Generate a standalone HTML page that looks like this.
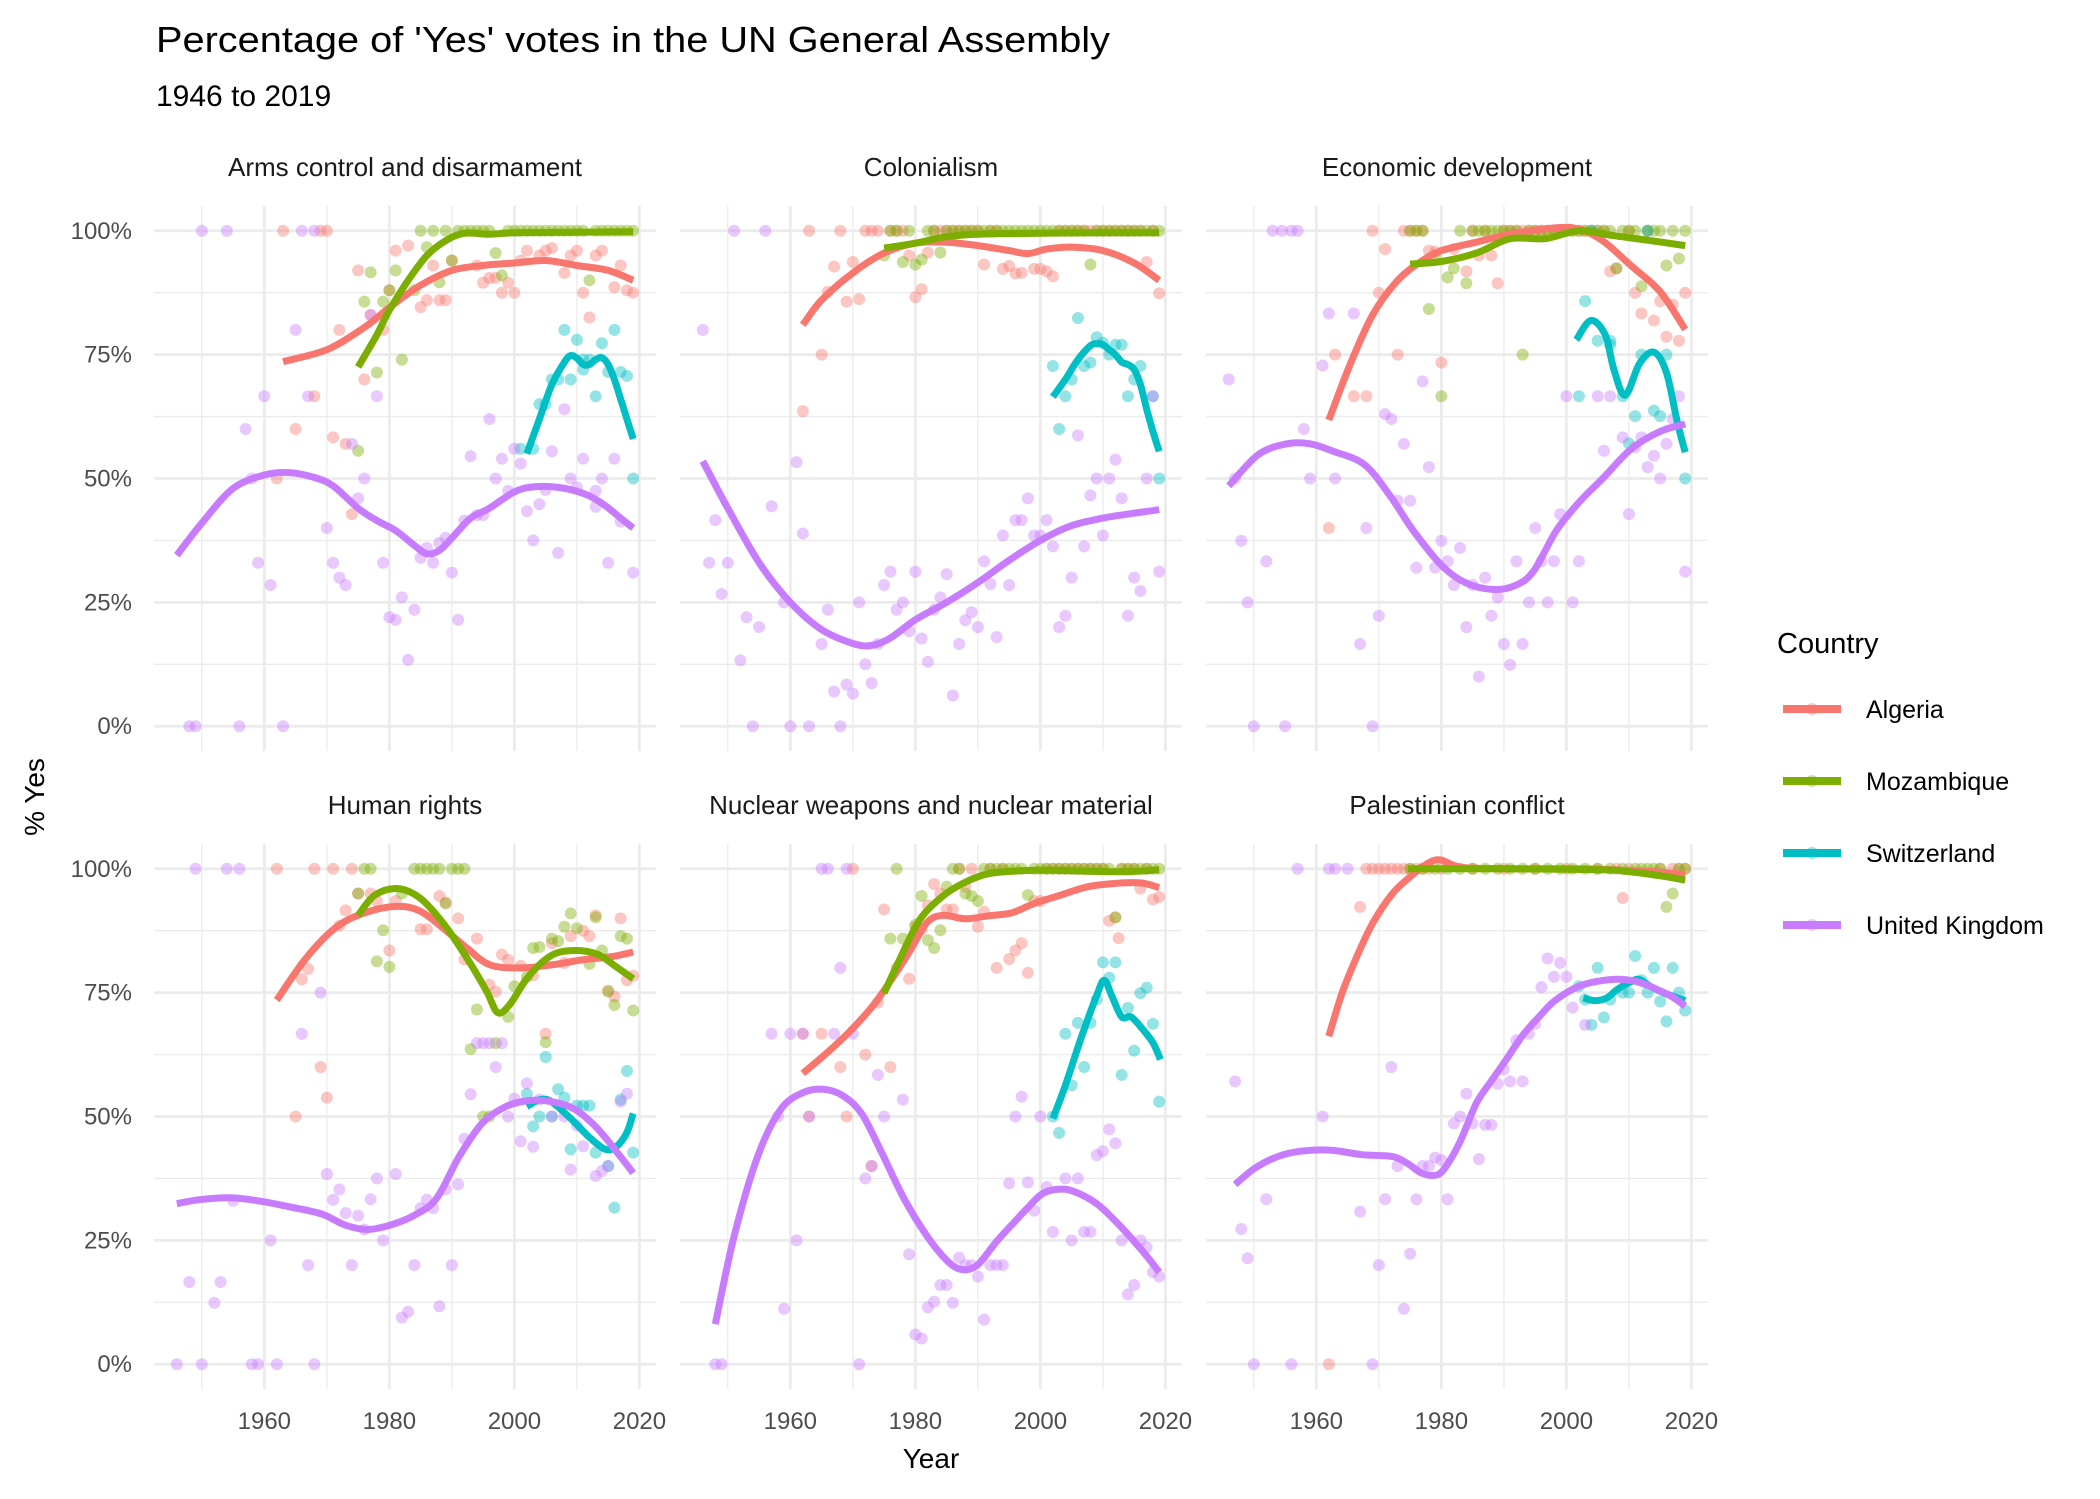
<!DOCTYPE html>
<html><head><meta charset="utf-8"><title>UN votes</title>
<style>
html,body{margin:0;padding:0;background:#fff;}
svg{display:block;font-family:"Liberation Sans",Arial,sans-serif;}
</style></head>
<body>
<svg id="chart" width="2100" height="1499" viewBox="0 0 2100 1499" xmlns="http://www.w3.org/2000/svg">
<rect width="2100" height="1499" fill="#ffffff"/>
<text x="156" y="52" font-size="36" fill="#000" textLength="954" lengthAdjust="spacingAndGlyphs">Percentage of 'Yes' votes in the UN General Assembly</text>
<text x="156" y="106" font-size="30" fill="#000">1946 to 2019</text>
<text transform="translate(44,797) rotate(-90)" text-anchor="middle" font-size="28" fill="#000">% Yes</text>
<text x="931" y="1468" text-anchor="middle" font-size="28" fill="#000">Year</text>
<g id="panels"></g>
<g id="legend">
<text x="1777" y="653" font-size="29" fill="#000">Country</text>
</g>
</svg>
<script>
const countries = ["Algeria","Mozambique","Switzerland","United Kingdom"];
const colors = ["#F8766D","#7CAE00","#00BFC4","#C77CFF"];
const panelTitles = ["Arms control and disarmament","Colonialism","Economic development","Human rights","Nuclear weapons and nuclear material","Palestinian conflict"];
const yTicks = [0,25,50,75,100];
const yTickLabels = ["0%","25%","50%","75%","100%"];
const xTicks = [1960,1980,2000,2020];
const xTickLabels = ["1960","1980","2000","2020"];

const armsAlgPts = [[1963,100],[1969,100],[1970,100],[1962,50],[1965,60],[1968,66.6],[1971,58.3],[1972,80],[1973,57],[1974,42.8],[1975,92],[1976,70],[1977,83],[1979,80],[1980,88],[1981,96],[1983,97],[1985,84.6],[1986,86],[1987,93],[1988,86],[1989,86],[1990,94],[1994,93],[1995,89.5],[1996,90.5],[1997,90.5],[1998,87.5],[1999,89.5],[2000,87.5],[2001,94],[2002,96],[2004,95],[2005,96],[2006,96.5],[2008,91.5],[2009,95],[2010,96],[2011,87.5],[2012,82.5],[2013,95],[2014,96],[2016,88.6],[2017,93],[2018,88],[2019,87.5]];
const armsMozPts = [[1975,55.6],[1976,85.7],[1977,91.6],[1978,71.4],[1979,85.7],[1980,88],[1981,92],[1982,74],[1984,88],[1985,100],[1986,96.7],[1987,100],[1988,89.6],[1989,100],[1990,94],[1991,100],[1992,100],[1993,100],[1994,100],[1995,100],[1996,100],[1997,95.5],[1998,91],[1999,100],[2000,100],[2001,100],[2002,100],[2003,100],[2004,100],[2005,100],[2006,100],[2007,100],[2008,100],[2009,100],[2010,100],[2011,100],[2012,90],[2013,100],[2014,100],[2015,100],[2016,100],[2017,100],[2018,100],[2019,100]];
const armsSwiPts = [[2001,56],[2003,56],[2004,65],[2005,65],[2006,70],[2007,70],[2008,80],[2009,70],[2010,78],[2011,74],[2011,72],[2012,74],[2013,66.6],[2014,77.3],[2015,71.5],[2016,80],[2017,71.5],[2018,70.7],[2019,50]];
const armsUkPts = [[1950,100],[1954,100],[1966,100],[1968,100],[1965,80],[1960,66.6],[1957,60],[1958,50],[1959,33],[1961,28.5],[1967,66.6],[1970,40],[1971,33],[1972,30],[1973,28.5],[1974,57],[1975,46],[1976,50],[1978,66.6],[1977,83],[1979,33],[1980,22],[1981,21.5],[1982,26],[1983,13.4],[1984,23.5],[1985,34],[1986,36],[1987,33],[1988,37],[1989,38],[1990,31],[1991,21.5],[1992,41.5],[1993,54.5],[1994,42.6],[1995,42.6],[1996,62],[1997,50],[1998,54],[1999,47.5],[2000,56],[2001,53],[2002,43.4],[2003,37.5],[2004,44.8],[2005,47.7],[2006,55.5],[2007,35],[2008,64],[2009,50],[2010,48.2],[2011,54],[2013,44.3],[2013,47.5],[2014,50],[2015,33],[2016,54],[2017,41.3],[2019,31],[1948,0],[1949,0],[1956,0],[1963,0]];
const armsAlgLine = [[1963,73.6],[1970,76],[1976,80.5],[1980,84.5],[1985,89],[1990,92],[1995,93],[2000,93.5],[2005,94],[2010,93],[2015,92],[2019,90]];
const armsMozLine = [[1975,72.5],[1978,79],[1980,84],[1983,90],[1986,95],[1989,98],[1992,99.5],[1996,99.3],[2000,99.6],[2010,99.7],[2019,99.8]];
const armsSwiLine = [[2002,55],[2004,62],[2006,69],[2008,73.5],[2009,74.8],[2010,74.3],[2011,73],[2012,73],[2013,74],[2014,74.4],[2015,73],[2016,70],[2017,66],[2018,62],[2019,58]];
const armsUkLine = [[1946,34.5],[1950,41],[1955,48],[1960,50.7],[1964,51.2],[1968,50.2],[1971,48.5],[1975,44],[1978,41.5],[1981,39.5],[1984,36.5],[1986,34.8],[1988,35.5],[1990,38],[1993,42],[1996,44],[2000,47.3],[2003,48.3],[2007,48.2],[2011,47],[2014,45],[2017,42],[2019,40]];

const colAlgPts = [[1963,100],[1968,100],[1972,100],[1973,100],[1974,100],[1976,100],[1977,100],[1978,100],[1983,100],[1984,100],[1985,100],[1986,100],[1987,100],[1988,100],[1989,100],[1990,100],[1992,100],[1993,100],[2003,100],[2004,100],[2005,100],[2006,100],[2007,100],[2008,100],[2009,100],[2010,100],[2011,100],[2012,100],[2013,100],[2014,100],[2015,100],[2016,100],[2018,100],[1962,63.6],[1965,75],[1966,87.7],[1967,92.8],[1969,85.7],[1970,93.7],[1971,86.2],[1979,95],[1980,86.6],[1981,88.2],[1982,95.6],[1991,93.2],[1994,92.3],[1995,92.9],[1996,91.4],[1997,91.5],[1999,92.3],[2000,92.3],[2001,91.8],[2002,90.8],[2017,93.7],[2019,87.4]];
const colMozPts = [[1976,100],[1977,100],[1979,100],[1982,100],[1983,100],[1985,100],[1986,100],[1987,100],[1988,100],[1989,100],[1990,100],[1991,100],[1992,100],[1993,100],[1994,100],[1995,100],[1996,100],[1997,100],[1998,100],[1999,100],[2000,100],[2001,100],[2002,100],[2003,100],[2004,100],[2005,100],[2006,100],[2007,100],[2009,100],[2010,100],[2011,100],[2012,100],[2013,100],[2014,100],[2015,100],[2016,100],[2017,100],[2018,100],[2019,100],[1975,95],[1978,93.7],[1980,93.2],[1981,94.2],[1984,95.6],[2008,93.2]];
const colSwiPts = [[2002,72.7],[2003,60],[2004,66.6],[2005,70],[2006,82.4],[2007,72.7],[2008,73.4],[2009,78.5],[2010,77.4],[2011,75],[2012,77],[2013,77],[2014,66.6],[2015,70],[2016,72.7],[2018,66.6],[2019,50]];
const colUkPts = [[1946,80],[1951,100],[1956,100],[1948,41.6],[1947,33],[1950,33],[1949,26.7],[1953,22],[1955,20],[1952,13.3],[1954,0],[1960,0],[1963,0],[1968,0],[1957,44.4],[1961,53.3],[1962,38.9],[1959,25],[1965,16.6],[1966,23.5],[1967,7],[1969,8.4],[1970,6.6],[1971,25],[1972,12.5],[1973,8.7],[1974,16.6],[1975,28.5],[1976,31.2],[1977,23.5],[1978,25],[1979,19.2],[1980,31.2],[1981,17.7],[1982,13],[1983,23.5],[1984,26],[1985,30.7],[1986,6.2],[1987,16.6],[1988,21.4],[1989,23],[1990,20],[1991,33.3],[1992,28.7],[1993,18],[1994,38.5],[1995,28.5],[1996,41.6],[1997,41.6],[1998,46],[1999,38.5],[2000,38.5],[2001,41.6],[2002,36.3],[2003,20],[2004,22.3],[2005,30],[2006,58.7],[2007,36.3],[2008,46.6],[2009,50],[2010,38.5],[2011,50],[2012,53.8],[2013,46],[2014,22.3],[2015,30],[2016,27.3],[2017,50],[2018,66.6],[2019,31.2]];
const colAlgLine = [[1962,81],[1965,86],[1970,91.5],[1975,95.5],[1980,97.5],[1985,97.7],[1990,97],[1995,96],[1998,95.4],[2001,96.3],[2005,96.7],[2010,96],[2015,93.5],[2019,90]];
const colMozLine = [[1975,96.5],[1980,97.5],[1985,98.8],[1990,99.3],[2000,99.5],[2010,99.6],[2019,99.6]];
const colSwiLine = [[2002,66.5],[2004,70],[2006,74],[2008,76.8],[2009,77.2],[2010,77],[2011,76],[2012,75],[2013,73.5],[2014,73],[2015,72],[2016,69],[2017,64],[2018,59.5],[2019,55.5]];
const colUkLine = [[1946,53.5],[1950,44],[1955,33],[1960,25],[1965,19.5],[1970,16.7],[1973,16.3],[1976,17.8],[1980,21.5],[1985,25],[1990,29],[1995,33.5],[2000,37.5],[2005,40.5],[2010,42],[2015,43],[2019,43.7]];

const ecoAlgPts = [[1962,40],[1963,75],[1966,66.6],[1968,66.6],[1969,100],[1970,87.5],[1971,96.3],[1973,75],[1974,100],[1975,100],[1976,100],[1977,100],[1978,96],[1979,95.8],[1980,73.4],[1982,96.3],[1984,91.8],[1985,100],[1986,95],[1987,100],[1988,95],[1989,89.4],[1990,100],[1991,100],[1992,100],[1993,100],[1994,100],[1995,100],[1996,100],[1997,100],[1998,100],[1999,100],[2000,100],[2001,100],[2002,100],[2003,100],[2004,100],[2005,100],[2006,100],[2007,91.8],[2008,92.4],[2010,100],[2011,87.5],[2012,83.3],[2013,100],[2014,81.9],[2015,85.8],[2016,78.6],[2017,85.1],[2018,77.8],[2019,87.5]];
const ecoMozPts = [[1975,100],[1976,100],[1977,100],[1978,84.2],[1979,95],[1980,66.6],[1981,90.6],[1982,92.4],[1983,100],[1984,89.4],[1985,100],[1986,100],[1987,100],[1988,100],[1989,100],[1990,100],[1991,100],[1992,100],[1993,75],[1994,100],[1995,100],[1996,100],[1997,100],[1998,100],[1999,100],[2000,100],[2001,100],[2002,100],[2003,100],[2004,100],[2005,100],[2006,100],[2007,100],[2008,92.4],[2009,100],[2010,100],[2011,100],[2012,88.8],[2013,100],[2014,100],[2015,100],[2016,93],[2017,100],[2018,94.4],[2019,100]];
const ecoSwiPts = [[2002,66.6],[2003,85.8],[2004,100],[2005,77.8],[2007,77.8],[2007,77],[2009,66.6],[2010,57.1],[2011,62.6],[2012,75],[2013,100],[2014,63.7],[2015,62.6],[2016,75],[2019,50]];
const ecoUkPts = [[1946,70],[1947,50],[1948,37.4],[1949,25],[1950,0],[1952,33.3],[1953,100],[1954.5,100],[1956,100],[1957,100],[1955,0],[1958,60],[1959,50],[1961,72.8],[1962,83.3],[1963,50],[1966,83.3],[1967,16.6],[1968,40],[1969,0],[1970,22.3],[1971,63],[1972,62],[1973,45.5],[1974,57],[1975,45.5],[1976,32],[1977,69.6],[1978,52.3],[1979,32],[1980,37.4],[1981,33.3],[1982,28.5],[1983,36],[1984,20],[1985,28.5],[1986,10],[1987,30],[1988,22.3],[1989,26],[1990,16.6],[1991,12.4],[1992,33.3],[1993,16.6],[1994,25],[1995,40],[1996,33.3],[1997,25],[1998,33.3],[1999,42.8],[2000,66.6],[2001,25],[2002,33.3],[2005,66.6],[2006,55.6],[2007,66.6],[2009,58.3],[2010,42.8],[2011,56.3],[2012,58.3],[2013,52.3],[2014,54.6],[2015,50],[2016,57],[2017,62],[2018,66.6],[2019,31.2]];
const ecoAlgLine = [[1962,61.8],[1965.4,73],[1969,83],[1972.8,89.7],[1976.4,93.5],[1980,96],[1985.6,97.7],[1991,99.3],[1998.4,100.6],[2002,100.3],[2005.8,98],[2010.4,92.9],[2015,87.7],[2019,80.1]];
const ecoMozLine = [[1975,93.3],[1980,93.8],[1985.6,95.5],[1991,98.4],[1996.6,98.4],[2002,100],[2007.6,99],[2013,98.1],[2019,97]];
const ecoSwiLine = [[2001.6,78],[2003.9,81.9],[2006.2,79],[2007.6,72],[2009.4,66.8],[2011.7,73.2],[2014,75.5],[2016,71.4],[2017.7,61.6],[2019,55.3]];
const ecoUkLine = [[1946,48.5],[1950.7,54.8],[1955.3,57],[1959,57],[1962.7,55.5],[1967.7,52.8],[1971.8,46.5],[1975.5,39.5],[1980,32.5],[1983.8,29],[1988.3,27.6],[1992,28.5],[1994.8,31.4],[1998.4,39.5],[2002.1,45.3],[2005.8,50],[2010.4,56],[2015,59.5],[2019,61]];

const humAlgPts = [[1962,100],[1968,100],[1971,100],[1974,100],[1965,50],[1966,77.7],[1967,79.8],[1969,60],[1970,53.8],[1972,88.5],[1973,91.6],[1975,95],[1977,95],[1978,93.5],[1980,83.5],[1981,93.5],[1985,87.8],[1986,87.8],[1988,94.5],[1989,93.2],[1991,90],[1992,81.7],[1994,85.9],[1996,76.6],[1997,75.2],[1998,82.7],[1999,81.6],[2001,80.4],[2003,78.5],[2005,66.7],[2006,85],[2008,81],[2009,86.4],[2011,87.5],[2012,86.4],[2013,90.6],[2015,75.4],[2016,74.2],[2017,90],[2018,77.5],[2019,78.4]];
const humMozPts = [[1975,95],[1976,100],[1977,100],[1978,81.3],[1979,87.6],[1980,80.2],[1982,95],[1984,100],[1985,100],[1986,100],[1987,100],[1988,100],[1989,93],[1990,100],[1991,100],[1992,100],[1993,63.6],[1994,71.6],[1995,50],[1996,50],[1997,64.8],[1999,70.1],[2000,76.3],[2002,78.2],[2003,84],[2004,84.2],[2005,65],[2006,85.9],[2007,85.4],[2008,88.3],[2009,91],[2010,88],[2012,80.8],[2013,90.2],[2014,83.5],[2015,75.2],[2016,72.5],[2017,86.4],[2018,85.9],[2019,71.4]];
const humSwiPts = [[2002,54.6],[2003,48],[2004,50],[2005,62],[2006,50],[2007,55.5],[2008,53.8],[2009,43.4],[2010,52.2],[2011,52.2],[2012,52.2],[2013,42.7],[2015,40],[2016,31.6],[2017,53.4],[2018,59.2],[2019,42.7]];
const humUkPts = [[1949,100],[1954,100],[1956,100],[1946,0],[1950,0],[1958,0],[1959,0],[1962,0],[1968,0],[1948,16.6],[1952,12.4],[1953,16.6],[1955,33],[1961,25],[1966,66.7],[1967,20],[1969,75],[1970,38.4],[1971,33.2],[1972,35.3],[1973,30.5],[1974,20],[1975,30],[1976,27.2],[1977,33.3],[1978,37.5],[1979,25],[1981,38.4],[1982,9.4],[1983,10.6],[1984,20],[1985,31.5],[1986,33.2],[1987,31.5],[1988,11.7],[1989,35.3],[1990,20],[1991,36.3],[1992,45.5],[1993,54.5],[1994,64.8],[1995,64.8],[1996,64.8],[1997,60],[1998,64.8],[1999,50],[2000,53.6],[2001,45],[2002,56.7],[2003,43.9],[2004,53.4],[2006,50],[2008,50],[2009,39.3],[2010,48.2],[2011,44],[2013,38],[2014,39],[2015,40],[2017,53],[2018,54.6]];
const humAlgLine = [[1962,73.5],[1966.7,82],[1971.6,88.3],[1976.5,91.3],[1981.4,92.4],[1985,91.4],[1988.8,87.8],[1992.4,84],[1996.1,80.6],[2001,80],[2005.9,80.6],[2010.8,81.6],[2015.7,82.3],[2019,83.2]];
const humMozLine = [[1975,90.6],[1977.7,94.7],[1981.4,96],[1985,94],[1988.8,88.7],[1992.4,82],[1995.5,75.4],[1997.3,71],[1999.2,72.5],[2002.2,78.2],[2005.9,82.5],[2009.6,83.5],[2013.2,82.8],[2016.3,80.2],[2019,77.8]];
const humSwiLine = [[2002,52],[2004,53.4],[2005.9,53],[2009,49.6],[2012,45.8],[2014.5,43.4],[2016.3,43.9],[2018,46.8],[2019,50.6]];
const humUkLine = [[1946,32.4],[1949.6,33.2],[1954.5,33.6],[1959.4,32.9],[1964.3,31.7],[1969.2,30.3],[1972.9,28.1],[1976.5,27.2],[1980.2,28.1],[1983.9,30],[1987.5,33.4],[1991.2,42],[1994.9,48.7],[1998.6,52],[2002.2,53.2],[2005.9,53],[2009.6,51.5],[2013.2,47.7],[2016.9,42],[2019,38.6]];

const nucAlgPts = [[1962,66.7],[1963,50],[1965,66.7],[1968,60],[1969,50],[1970,100],[1972,62.5],[1973,40],[1974,73],[1975,91.8],[1976,60],[1977,80],[1979,77.8],[1980,88.3],[1981,87.8],[1982,92.6],[1983,96.9],[1984,95],[1985,91.8],[1986,91.8],[1987,100],[1988,96.4],[1989,100],[1990,88.3],[1991,91.3],[1992,100],[1993,80],[1994,100],[1995,81.8],[1996,83.5],[1997,85],[1998,79],[1999,93.5],[2000,93.5],[2001,100],[2002,100],[2003,100],[2004,100],[2005,100],[2006,100],[2007,100],[2008,100],[2009,100],[2010,100],[2011,89.5],[2012,90.2],[2012.5,86],[2013,100],[2014,100],[2015,100],[2016,96],[2017,100],[2018,93.8],[2019,94.3]];
const nucMozPts = [[1976,85.9],[1977,100],[1978,85.9],[1980,88.7],[1981,94.5],[1982,85.6],[1983,84],[1984,87.6],[1985,96.4],[1986,100],[1987,100],[1988,95],[1989,94.5],[1990,93.5],[1991,100],[1992,100],[1993,100],[1994,100],[1995,100],[1996,100],[1997,100],[1998,94.7],[1999,100],[2000,100],[2001,100],[2002,100],[2003,100],[2004,100],[2005,100],[2006,100],[2007,100],[2008,100],[2009,100],[2010,100],[2011,100],[2012,90.2],[2013,100],[2014,100],[2015,100],[2016,100],[2017,100],[2018,100],[2019,100]];
const nucSwiPts = [[2002,50],[2003,46.7],[2004,66.7],[2005,56.3],[2006,68.9],[2007,60],[2008,68.9],[2009,73.6],[2010,81.1],[2011,78],[2012,81.1],[2013,58.4],[2014,71.9],[2015,63.3],[2016,74.9],[2017,76],[2018,68.7],[2019,53]];
const nucUkPts = [[1948,0],[1949,0],[1957,66.7],[1958,50],[1959,11.2],[1960,66.7],[1961,25],[1962,66.7],[1963,50],[1965,100],[1966,100],[1967,66.7],[1968,80],[1969,100],[1970,66.7],[1971,0],[1972,37.5],[1973,40],[1974,58.4],[1975,50],[1978,53.4],[1979,22.2],[1980,6],[1981,5.2],[1982,11.5],[1983,12.6],[1984,16],[1985,16],[1986,12.4],[1987,21.5],[1988,20],[1989,20],[1990,17.7],[1991,9],[1992,20],[1993,20],[1994,20],[1995,36.5],[1996,50],[1997,54],[1998,36.7],[1999,31],[2000,50],[2001,35.8],[2002,26.7],[2004,37.5],[2005,25],[2006,37.5],[2007,26.7],[2008,26.7],[2009,42.2],[2010,43],[2011,47.4],[2012,44.6],[2013,25],[2014,14.1],[2015,16],[2016,25],[2017,23.6],[2018,18.6],[2019,17.7]];
const nucAlgLine = [[1962,58.7],[1966,63],[1969.6,67.3],[1973.3,72.5],[1977,79.2],[1979.4,84],[1981.9,89.2],[1984.4,90.6],[1988,89.9],[1991.7,90.5],[1995.4,91.1],[1999,93],[2002.8,94.5],[2007.7,96.4],[2012.6,97.1],[2016.3,97.1],[2019,96.2]];
const nucMozLine = [[1975,74.9],[1977.6,82],[1980.7,89.7],[1984.4,94.5],[1988,97.3],[1991.7,99],[1996.7,99.6],[2001.6,99.7],[2007.7,99.5],[2013.9,99.4],[2019,99.8]];
const nucSwiLine = [[2002,49.6],[2004,56.3],[2006.5,65.8],[2009,74.4],[2010.2,77.5],[2011.4,74.4],[2013,70.1],[2014.5,70.1],[2016.3,67.7],[2018,64.9],[2019.2,61.5]];
const nucUkLine = [[1948,8.1],[1951,25.8],[1954.8,42],[1958.5,51.5],[1962.2,54.9],[1965.3,55.5],[1968.4,54.2],[1971.4,50.6],[1974.5,43],[1978.2,33.4],[1981.9,25.8],[1985,21],[1987.4,19.1],[1989.9,20],[1993,24.8],[1995.4,28.1],[1997.9,31.5],[2000.3,34.4],[2002.8,35.3],[2005.3,34.9],[2009,32.4],[2012.6,28.1],[2016.3,22.9],[2019,18.6]];

const palAlgPts = [[1962,0],[1967,92.3],[1968,100],[1969,100],[1970,100],[1971,100],[1972,100],[1973,100],[1974,100],[1975,100],[1976,100],[1977,100],[1978,100],[1980,100],[1985,100],[1990,100],[1995,100],[2000,100],[2005,100],[2008,100],[2009,94.1],[2010,100],[2015,100],[2017,100],[2018,100],[2019,100]];
const palMozPts = [[1975,100],[1977,100],[1979,100],[1981,100],[1983,100],[1985,100],[1987,100],[1989,100],[1991,100],[1993,100],[1995,100],[1997,100],[1999,100],[2001,100],[2003,100],[2005,100],[2007,100],[2009,100],[2011,100],[2012,100],[2013,100],[2014,100],[2015,100],[2016,92.3],[2017,95],[2018,100],[2019,100]];
const palSwiPts = [[2002,76.3],[2003,73.6],[2004,68.5],[2005,80],[2006,70],[2007,73.6],[2009,75],[2010,75],[2011,82.4],[2012,77.5],[2013,75],[2014,80],[2015,73.2],[2016,69.2],[2017,80],[2018,75],[2019,71.4]];
const palUkPts = [[1947,57.1],[1948,27.3],[1949,21.4],[1950,0],[1952,33.3],[1956,0],[1957,100],[1961,50],[1962,100],[1963,100],[1965,100],[1967,30.8],[1969,0],[1970,20],[1971,33.3],[1972,60],[1973,40],[1974,11.2],[1975,22.3],[1976,33.3],[1977,40],[1978,40],[1979,41.7],[1980,41.2],[1981,33.3],[1982,48.6],[1983,50],[1984,54.6],[1985,48.6],[1986,41.4],[1987,48.3],[1988,48.3],[1989,56.6],[1990,59.5],[1991,57.1],[1992,65.4],[1993,57.1],[1994,66.7],[1995,68.7],[1996,76.1],[1997,81.9],[1998,78.2],[1999,81],[2000,78.2],[2001,72],[2003,68.5]];
const palAlgLine = [[1962,66.2],[1964.2,75.2],[1966.7,82.9],[1969.1,89.2],[1972.2,95],[1975.2,98.6],[1977.7,101],[1979.8,101.8],[1983.2,100.3],[1990.5,100],[2002.7,100],[2008.8,99.7],[2014.9,99.3],[2019,98.8]];
const palMozLine = [[1974.6,100],[1990,100],[2005.8,99.8],[2010,99.4],[2014.9,98.6],[2019,97.7]];
const palSwiLine = [[2002.7,73.9],[2004.5,73.4],[2006.4,73.9],[2008.2,75.7],[2010,77],[2011.6,77.7],[2013.4,76.3],[2015.5,75],[2019,73.4]];
const palUkLine = [[1947,36.3],[1950.2,39.6],[1953.8,41.9],[1957.5,43],[1962.4,43.2],[1967.3,42.3],[1972.2,41.9],[1974.6,40.5],[1977,38.5],[1979.5,38.3],[1981.3,41],[1983.2,45.5],[1985.6,52.7],[1988,57.2],[1990.5,61.7],[1992.9,66.2],[1995.4,69.8],[1997.8,73],[2000.3,75.2],[2002.7,76.6],[2005.1,77.3],[2008.2,77.7],[2011.3,77.2],[2013.7,76.1],[2016.7,74.3],[2019,72.3]];

const panelPts = [
  [armsAlgPts, armsMozPts, armsSwiPts, armsUkPts],
  [colAlgPts, colMozPts, colSwiPts, colUkPts],
  [ecoAlgPts, ecoMozPts, ecoSwiPts, ecoUkPts],
  [humAlgPts, humMozPts, humSwiPts, humUkPts],
  [nucAlgPts, nucMozPts, nucSwiPts, nucUkPts],
  [palAlgPts, palMozPts, palSwiPts, palUkPts]
];
const panelLines = [
  [armsAlgLine, armsMozLine, armsSwiLine, armsUkLine],
  [colAlgLine, colMozLine, colSwiLine, colUkLine],
  [ecoAlgLine, ecoMozLine, ecoSwiLine, ecoUkLine],
  [humAlgLine, humMozLine, humSwiLine, humUkLine],
  [nucAlgLine, nucMozLine, nucSwiLine, nucUkLine],
  [palAlgLine, palMozLine, palSwiLine, palUkLine]
];

const NS = "http://www.w3.org/2000/svg";
const colX0 = [154, 680, 1206], rowY0 = [206, 844];
const PW = 502, PH = 545;
const xMin = 1942.35, xMax = 2022.65;
function xScale(col, yr){ return colX0[col] + (yr - xMin) / (xMax - xMin) * PW; }
function yScale(row, p){ return rowY0[row] + PH * (105 - p) / 110; }
function mk(tag, attrs, parent){ const e = document.createElementNS(NS, tag); for (const k in attrs) e.setAttribute(k, attrs[k]); parent.appendChild(e); return e; }
function smoothPath(pts){
  if (pts.length < 2) return "";
  let d = "M" + pts[0][0].toFixed(1) + "," + pts[0][1].toFixed(1);
  for (let i = 0; i < pts.length - 1; i++){
    const p0 = pts[i-1] || pts[i], p1 = pts[i], p2 = pts[i+1], p3 = pts[i+2] || p2;
    const c1x = p1[0] + (p2[0]-p0[0])/6, c1y = p1[1] + (p2[1]-p0[1])/6;
    const c2x = p2[0] - (p3[0]-p1[0])/6, c2y = p2[1] - (p3[1]-p1[1])/6;
    d += " C" + c1x.toFixed(1)+","+c1y.toFixed(1)+" "+c2x.toFixed(1)+","+c2y.toFixed(1)+" "+p2[0].toFixed(1)+","+p2[1].toFixed(1);
  }
  return d;
}
const root = document.getElementById("panels");
const slug = ["arms-control","colonialism","economic-development","human-rights","nuclear-weapons","palestinian-conflict"];
const cslug = ["algeria","mozambique","switzerland","united-kingdom"];
for (let i = 0; i < 6; i++){
  const col = i % 3, row = Math.floor(i / 3);
  const g = mk("g", {}, root);
  
  
  const x0 = colX0[col], y0 = rowY0[row];
  for (const p of [12.5, 37.5, 62.5, 87.5]){
    const y = yScale(row, p);
    mk("line", {x1:x0, x2:x0+PW, y1:y, y2:y, stroke:"#ebebeb", "stroke-width":1.3}, g);
  }
  for (const yr of [1950,1970,1990,2010]){
    const x = xScale(col, yr);
    mk("line", {x1:x, x2:x, y1:y0, y2:y0+PH, stroke:"#ebebeb", "stroke-width":1.3}, g);
  }
  for (const p of yTicks){
    const y = yScale(row, p);
    mk("line", {x1:x0, x2:x0+PW, y1:y, y2:y, stroke:"#ebebeb", "stroke-width":2.7}, g);
  }
  for (const yr of xTicks){
    const x = xScale(col, yr);
    mk("line", {x1:x, x2:x, y1:y0, y2:y0+PH, stroke:"#ebebeb", "stroke-width":2.7}, g);
  }
  const st = mk("text", {x: x0 + PW/2, y: y0 - 30, "text-anchor":"middle", "font-size":26, fill:"#1a1a1a"}, g);
  st.textContent = panelTitles[i];
  
  
  if (col === 0){
    for (let k = 0; k < yTicks.length; k++){
      const t = mk("text", {x: 132, y: yScale(row, yTicks[k]) + 8, "text-anchor":"end", "font-size":24, fill:"#4d4d4d"}, g);
      t.textContent = yTickLabels[k];
      
      
    }
  }
  if (row === 1){
    for (let k = 0; k < xTicks.length; k++){
      const t = mk("text", {x: xScale(col, xTicks[k]), y: 1429, "text-anchor":"middle", "font-size":24, fill:"#4d4d4d"}, g);
      t.textContent = xTickLabels[k];
      
      
    }
  }
  for (let c = 0; c < 4; c++){
    for (const pt of panelPts[i][c]){
      const dot = mk("circle", {cx: xScale(col, pt[0]), cy: yScale(row, pt[1]), r: 6, fill: colors[c], "fill-opacity": 0.42}, g);
      
      
    }
  }
  for (let c = 0; c < 4; c++){
    const pts = panelLines[i][c].map(p => [xScale(col, p[0]), yScale(row, p[1])]);
    const path = mk("path", {d: smoothPath(pts), fill:"none", stroke: colors[c], "stroke-width": 7, "stroke-linecap":"butt", "stroke-linejoin":"round"}, g);
    
    
  }
}
const lg = document.getElementById("legend");
const legendY = [709, 781, 853, 925];
for (let c = 0; c < 4; c++){
  const item = mk("g", {}, lg);
  
  
  mk("line", {x1:1783, x2:1841, y1:legendY[c], y2:legendY[c], stroke:colors[c], "stroke-width":8}, item);
  mk("circle", {cx:1812, cy:legendY[c], r:6, fill:colors[c], "fill-opacity":0.4}, item);
  const t = mk("text", {x:1866, y:legendY[c]+9, "font-size":25, fill:"#000"}, item);
  t.textContent = countries[c];
}
</script>
</body></html>
